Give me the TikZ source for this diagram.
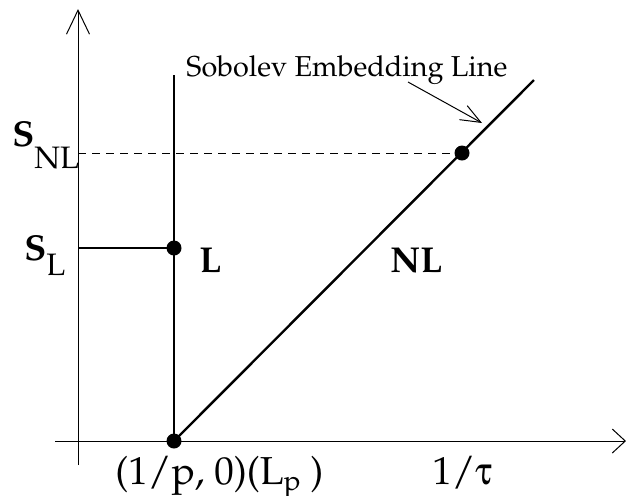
\documentclass[tikz,border=0pt]{standalone}
\usepackage[T1]{fontenc}
\usepackage{mathpazo}
\usepackage[Symbol]{upgreek}
\usetikzlibrary{arrows.meta}
\begin{document}
\begin{tikzpicture}[x=0.5pt,y=-0.5pt,
  axis/.style={line width=0.5pt},
  thickline/.style={line width=1.2pt},
  dotnode/.style={circle,fill=black,inner sep=0pt,minimum size=7.5pt},
  lbl/.style={anchor=base west,inner sep=0pt}]
\useasboundingbox (0,0) rectangle (626,495);
% coordinates
\coordinate (ybot) at (78,465);
\coordinate (ytop) at (78,9);
\coordinate (xleft) at (55,441);
\coordinate (xright) at (626,441);
\coordinate (ltop) at (174,75);
\coordinate (dtop) at (534,80);
\coordinate (ynl) at (78,153);
\coordinate (yl) at (78,248);
\coordinate (arrS) at (408,82);
\coordinate (arrE) at (482,123);
% axes
\draw[axis,-{Straight Barb[length=12pt,width=11.5pt,line width=0.5pt]}] (ybot) -- (ytop);
\draw[axis,-{Straight Barb[length=6.5pt,width=12pt,line width=0.5pt]}] (xleft) -- (xright);
% dots
\node[dotnode] (p0) at (174,441) {};
\node[dotnode] (pl) at (174,248) {};
\node[dotnode] (pnl) at (462,153) {};
% lines
\draw[thickline] (p0.center) -- (ltop);
\draw[thickline] (p0.center) -- (dtop);
\draw[line width=0.5pt,dash pattern=on 4pt off 3pt] (ynl) -- (pnl.center);
\draw[line width=0.6pt] (yl) -- (pl.center);
\draw[line width=0.5pt,-{Straight Barb[length=10pt,width=8pt,line width=0.5pt]}] (arrS) -- (arrE);
% labels
\node[lbl] (sob) at (186,76) {\fontsize{14.4}{16}\selectfont Sobolev Embedding Line};
\node[lbl] (snl) at (12,146) {\fontsize{18}{20}\selectfont\textbf{S}\raisebox{-11pt}{\fontsize{15.5}{18}\selectfont NL}};
\node[lbl] (sl) at (24,260) {\fontsize{18}{20}\selectfont\textbf{S}\raisebox{-7.5pt}{\fontsize{15.5}{18}\selectfont L}};
\node[lbl] (lL) at (199,272) {\fontsize{18}{20}\selectfont\textbf{L}};
\node[lbl] (lNL) at (390,272) {\fontsize{18}{20}\selectfont\textbf{NL}};
\node[lbl] (xp) at (115,484) {\fontsize{19.5}{22}\selectfont (1/p, 0)(L\raisebox{-3pt}{\fontsize{14}{16}\selectfont p} )};
\node[lbl] (xt) at (432,484) {\fontsize{19.5}{22}\selectfont 1/$\uptau$};
\end{tikzpicture}
\end{document}
